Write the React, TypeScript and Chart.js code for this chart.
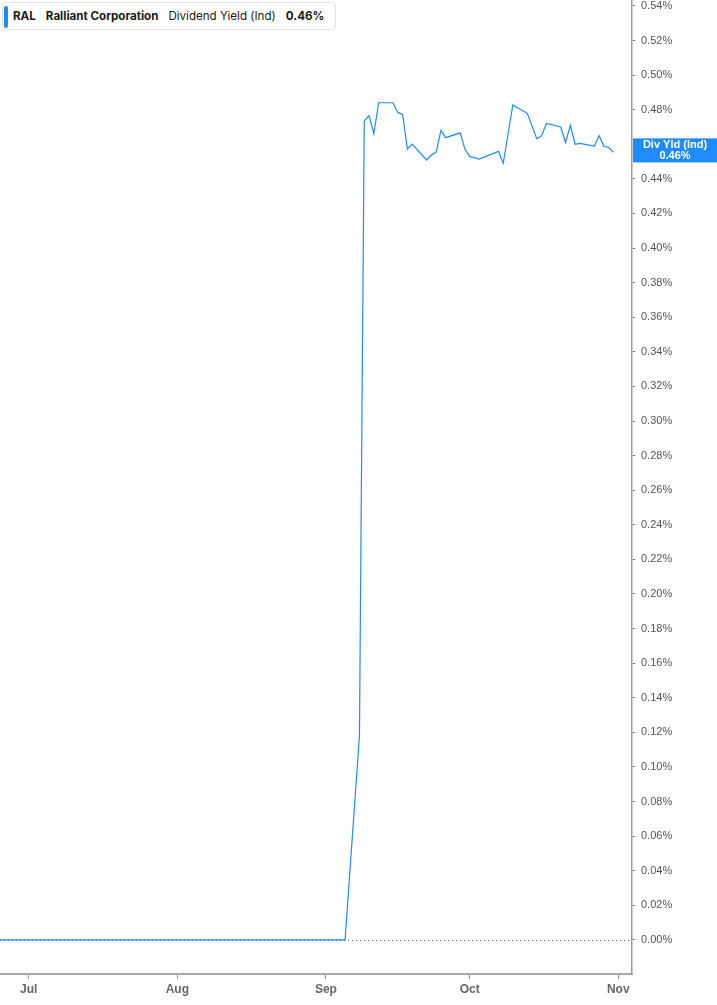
import React, { useEffect, useRef } from 'react';
import { Chart, registerables } from 'chart.js';

Chart.register(...registerables);

const dates = [
    '2025-06-25', '2025-09-05', '2025-09-08', '2025-09-09', '2025-09-10', '2025-09-11', '2025-09-12',
    '2025-09-15', '2025-09-16', '2025-09-17', '2025-09-18', '2025-09-19', '2025-09-22', '2025-09-23',
    '2025-09-24', '2025-09-25', '2025-09-26', '2025-09-29', '2025-09-30', '2025-10-01', '2025-10-03',
    '2025-10-07', '2025-10-08', '2025-10-10', '2025-10-13', '2025-10-15', '2025-10-16', '2025-10-17',
    '2025-10-20', '2025-10-21', '2025-10-22', '2025-10-23', '2025-10-24', '2025-10-27', '2025-10-28',
    '2025-10-29', '2025-10-30', '2025-10-31',
];
const yieldPct = [
    0, 0, 0.118, 0.4734, 0.4765, 0.466, 0.484,
    0.484, 0.4784, 0.4773, 0.4572, 0.4601, 0.4509, 0.4538,
    0.4555, 0.468, 0.4638, 0.4666, 0.4572, 0.453, 0.4514,
    0.4559, 0.449, 0.4827, 0.4779, 0.4632, 0.4649, 0.472,
    0.47, 0.461, 0.471, 0.46, 0.4605, 0.459, 0.4649,
    0.4588, 0.4582, 0.4553,
];
const monthTicks = ['2025-07-01', '2025-08-01', '2025-09-01', '2025-10-01', '2025-11-01'];
const monthLabels = ['Jul', 'Aug', 'Sep', 'Oct', 'Nov'];
const yTicks = [0, 0.02, 0.04, 0.06, 0.08, 0.1, 0.12, 0.14, 0.16, 0.18, 0.2, 0.22, 0.24, 0.26,
    0.28, 0.3, 0.32, 0.34, 0.36, 0.38, 0.4, 0.42, 0.44, 0.46, 0.48, 0.5, 0.52, 0.54];

const BLUE = '#1f8bff';
const base = Date.UTC(2025, 6, 1);
const dayOf = (s: string) => {
    const [y, m, d] = s.split('-').map(Number);
    return (Date.UTC(y, m - 1, d) - base) / 86400000;
};
const lastValue = yieldPct[yieldPct.length - 1];

const App: React.FC = () => {
    const canvasRef = useRef<HTMLCanvasElement | null>(null);
    const chartRef = useRef<Chart | null>(null);

    useEffect(() => {
        document.body.style.margin = '0';
        if (!canvasRef.current) return;
        if (chartRef.current) chartRef.current.destroy();

        // dotted line at 0% and the value tag on the right axis
        const overlay = {
            id: 'overlay',
            beforeDatasetsDraw(chart: any) {
                const { ctx, chartArea, scales } = chart;
                const y = Math.round(scales.y.getPixelForValue(0)) + 0.5;
                ctx.save();
                ctx.strokeStyle = '#555';
                ctx.lineWidth = 1;
                ctx.setLineDash([1, 3]);
                ctx.beginPath();
                ctx.moveTo(chartArea.left, y);
                ctx.lineTo(chartArea.right, y);
                ctx.stroke();
                ctx.restore();
            },
            afterDraw(chart: any) {
                const { ctx, chartArea, scales } = chart;
                const y = scales.y.getPixelForValue(lastValue) - 2;
                const x0 = chartArea.right + 1;
                const w = chart.width - x0;
                ctx.save();
                ctx.fillStyle = BLUE;
                ctx.fillRect(x0, y - 12, w, 24);
                ctx.fillStyle = '#fff';
                ctx.font = 'bold 11px "Liberation Sans", Arial, sans-serif';
                ctx.textAlign = 'center';
                ctx.textBaseline = 'middle';
                ctx.fillText('Div Yld (Ind)', x0 + w / 2, y - 5);
                ctx.fillText(lastValue.toFixed(2) + '%', x0 + w / 2, y + 6);
                ctx.restore();
            },
        };

        chartRef.current = new Chart(canvasRef.current, {
            type: 'line',
            data: {
                datasets: [
                    {
                        label: 'Dividend Yield (Ind)',
                        data: dates.map((d, i) => ({ x: dayOf(d), y: yieldPct[i] })),
                        borderColor: BLUE,
                        borderWidth: 1.2,
                        pointRadius: 0,
                        tension: 0,
                        fill: false,
                    },
                ],
            },
            options: {
                animation: false,
                responsive: true,
                maintainAspectRatio: false,
                layout: { padding: 0 },
                plugins: { legend: { display: false }, tooltip: { enabled: false } },
                scales: {
                    x: {
                        type: 'linear',
                        min: -5.99,
                        max: 125.86,
                        afterBuildTicks: (scale: any) => {
                            scale.ticks = monthTicks.map((d) => ({ value: dayOf(d) }));
                        },
                        afterFit: (scale: any) => {
                            scale.height = 31;
                            scale.paddingLeft = 0;
                            scale.paddingRight = 0;
                        },
                        ticks: {
                            autoSkip: false,
                            maxRotation: 0,
                            padding: 3,
                            color: '#666',
                            font: { family: '"Liberation Sans", Arial, sans-serif', size: 12, weight: 'bold' },
                            callback: (v: any) => {
                                const i = monthTicks.findIndex((d) => dayOf(d) === v);
                                return i >= 0 ? monthLabels[i] : '';
                            },
                        },
                        grid: { drawOnChartArea: false, tickLength: 5, tickColor: '#999' },
                        border: { color: '#aaa', width: 2 },
                    },
                    y: {
                        type: 'linear',
                        position: 'right',
                        min: -0.0197,
                        max: 0.5434,
                        afterBuildTicks: (scale: any) => {
                            scale.ticks = yTicks.map((v) => ({ value: v }));
                        },
                        afterFit: (scale: any) => {
                            scale.width = 85;
                            scale.paddingTop = 0;
                            scale.paddingBottom = 0;
                        },
                        ticks: {
                            padding: 6,
                            color: '#555',
                            font: { family: '"Liberation Sans", Arial, sans-serif', size: 11 },
                            callback: (v: any) => Number(v).toFixed(2) + '%',
                        },
                        grid: { drawOnChartArea: false, tickLength: 3, tickColor: '#777' },
                        border: { color: '#999', width: 1.5 },
                    },
                },
            },
            plugins: [overlay],
        } as any);

        return () => {
            if (chartRef.current) chartRef.current.destroy();
            chartRef.current = null;
        };
    }, []);

    return (
        <div style={{ position: 'relative', width: 717, height: 1005, background: '#fff' }}>
            <canvas ref={canvasRef}></canvas>
            <div
                style={{
                    position: 'absolute',
                    left: 2,
                    top: 2,
                    width: 334,
                    height: 28,
                    boxSizing: 'border-box',
                    border: '1px solid #e4e4e4',
                    borderRadius: 4,
                    background: '#fff',
                    display: 'flex',
                    alignItems: 'center',
                    fontFamily: 'Inter, "Noto Sans", sans-serif',
                    fontSize: 11.6,
                    color: '#1a1a1a',
                    whiteSpace: 'nowrap',
                }}
            >
                <div style={{ position: 'absolute', left: 1, top: 3, width: 4, height: 22, background: BLUE, borderRadius: 2 }} />
                <span style={{ marginLeft: 10, fontWeight: 700 }}>RAL</span>
                <span style={{ marginLeft: 10, fontWeight: 700 }}>Ralliant Corporation</span>
                <span style={{ marginLeft: 10 }}>Dividend Yield (Ind)</span>
                <span style={{ marginLeft: 10, fontWeight: 700 }}>{lastValue.toFixed(2)}%</span>
            </div>
        </div>
    );
};

export default App;
